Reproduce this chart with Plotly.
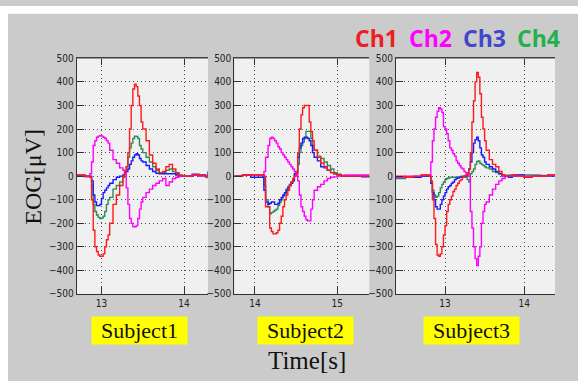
import plotly.graph_objects as go

# ---------------- data ----------------
CHANNELS = ["Ch1", "Ch2", "Ch3", "Ch4"]
CH_COLORS = ["#ff1a1a", "#ff00ff", "#1a1aff", "#2e8b57"]
LEGEND_COLORS = ["#ee1c24", "#ff00ff", "#3f48cc", "#22b14c"]
SUBJECTS = ["Subject1", "Subject2", "Subject3"]

S1_T = [12.70, 12.80, 12.86, 12.88, 12.90, 12.92, 12.94, 12.96, 12.98, 13.00,
        13.02, 13.04, 13.06, 13.08, 13.10, 13.14, 13.18, 13.22, 13.26, 13.28,
        13.30, 13.32, 13.34, 13.36, 13.38, 13.40, 13.42, 13.44, 13.46, 13.48,
        13.50, 13.54, 13.58, 13.62, 13.66, 13.70, 13.74, 13.78, 13.82, 13.86,
        13.90, 13.94, 13.98, 14.02, 14.10, 14.18, 14.26, 14.29]
S1_CH1 = [5, 0, -5, -100, -230, -300, -320, -335, -340, -340,
          -330, -300, -270, -250, -200, -120, -80, -40, 0, 20,
          40, 100, 200, 300, 370, 390, 380, 340, 300, 230,
          200, 150, 90, 55, 30, 15, 20, 40, 50, 30,
          15, 5, 0, 0, 5, 5, 0, 0]
S1_CH2 = [0, -3, 10, 60, 130, 150, 165, 170, 172, 170,
          165, 160, 150, 140, 110, 70, 55, 35, 25, 20,
          -50, -120, -180, -200, -215, -215, -210, -180, -140, -110,
          -90, -70, -55, -40, -30, -20, -10, -40, -25, -10,
          -5, 0, 0, 0, 5, 0, 0, 0]
S1_CH3 = [0, 0, 0, -20, -80, -110, -125, -125, -120, -95,
          -70, -60, -50, -40, -30, -15, -5, 0, 5, 15,
          20, 30, 50, 65, 80, 90, 95, 90, 75, 65,
          60, 45, 30, 20, 12, 10, 10, 10, 10, 10,
          5, 0, 0, 0, 8, 5, 0, 20]
S1_CH4 = [5, 0, -5, -40, -120, -150, -165, -175, -180, -178,
          -170, -150, -120, -100, -90, -55, -40, -25, -5, 10,
          40, 80, 120, 140, 160, 170, 168, 160, 130, 115,
          100, 80, 60, 40, 25, 15, 15, 25, 30, 20,
          10, 3, 0, 0, 5, 0, -5, -10]

S2_T = [13.75, 13.85, 13.95, 14.05, 14.11, 14.13, 14.16, 14.18, 14.20, 14.22,
        14.24, 14.26, 14.28, 14.30, 14.32, 14.34, 14.36, 14.38, 14.40, 14.42,
        14.44, 14.46, 14.48, 14.50, 14.52, 14.54, 14.56, 14.58, 14.60, 14.62,
        14.64, 14.66, 14.68, 14.70, 14.72, 14.76, 14.80, 14.84, 14.88, 14.92,
        14.96, 15.00, 15.05, 15.10, 15.20, 15.30, 15.39]
S2_CH1 = [0, 5, 5, 5, 0, -130, -130, -220, -235, -245,
          -245, -240, -230, -200, -170, -130, -100, -80, -60, -40,
          -25, -10, 0, 10, 100, 200, 260, 290, 300, 300,
          300, 230, 190, 150, 110, 80, 55, 40, 25, 15,
          10, 5, 0, 0, 0, 0, -5]
S2_CH2 = [0, 5, 5, 5, 20, 80, 130, 160, 165, 160,
          150, 140, 125, 115, 100, 90, 80, 70, 60, 50,
          40, 30, 20, 15, -20, -80, -130, -150, -170, -185,
          -190, -190, -140, -100, -60, -45, -35, -20, -10, -5,
          -3, 0, 3, 5, 5, 5, 3]
S2_CH3 = [0, 5, -5, -5, -60, -110, -120, -115, -110, -110,
          -120, -120, -115, -100, -90, -80, -70, -60, -50, -40,
          -30, -20, 10, 15, 80, 120, 140, 160, 165, 165,
          160, 150, 130, 100, 80, 65, 40, 35, 25, 15,
          10, 5, 0, 0, 0, -3, -5]
S2_CH4 = [0, 5, 5, 5, -40, -100, -130, -160, -155, -150,
          -145, -140, -125, -110, -100, -85, -75, -55, -45, -35,
          -25, -15, 0, 20, 50, 100, 130, 145, 160, 190,
          190, 190, 160, 130, 110, 85, 75, 60, 45, 30,
          15, 8, 3, 0, 0, 0, -5]

S3_T = [12.38, 12.50, 12.60, 12.70, 12.80, 12.82, 12.84, 12.86, 12.88, 12.90,
        12.92, 12.94, 12.96, 12.98, 13.00, 13.02, 13.04, 13.06, 13.08, 13.10,
        13.12, 13.14, 13.16, 13.18, 13.20, 13.22, 13.24, 13.26, 13.28, 13.30,
        13.32, 13.34, 13.36, 13.38, 13.40, 13.42, 13.44, 13.46, 13.48, 13.50,
        13.52, 13.56, 13.60, 13.64, 13.68, 13.72, 13.76, 13.80, 13.85, 13.90,
        14.00, 14.10, 14.20, 14.30, 14.39]
S3_CH1 = [0, -5, 0, 5, 0, -20, -100, -180, -290, -335,
          -340, -330, -300, -250, -210, -150, -120, -100, -85, -65,
          -55, -40, -30, -20, -15, -5, 0, 5, 10, 30,
          100, 230, 320, 400, 440, 420, 350, 250, 200, 150,
          110, 70, 50, 40, 20, 5, 0, 0, 5, 0,
          -5, 0, 0, 5, 5]
S3_CH2 = [-5, 0, 0, 5, 5, 60, 150, 200, 250, 275,
          290, 285, 270, 210, 200, 180, 150, 120, 110, 95,
          85, 65, 55, 45, 35, 30, 20, 15, 10, 0,
          -150, -220, -300, -350, -380, -340, -300, -200, -150, -120,
          -110, -80, -55, -35, -20, -10, 0, 0, 5, 0,
          0, 0, 0, 5, 5]
S3_CH3 = [-5, -5, -5, 0, 0, -30, -70, -100, -130, -140,
          -140, -120, -100, -85, -70, -55, -45, -40, -30, -25,
          -15, -10, -8, -5, -5, -3, 0, 0, 10, 30,
          60, 100, 140, 155, 165, 150, 120, 90, 80, 60,
          50, 40, 30, 20, 10, 0, 0, -5, 0, 5,
          -5, 0, 0, 0, 3]
S3_CH4 = [-10, -5, -3, 0, 0, -30, -60, -80, -90, -85,
          -70, -50, -35, -25, -15, -10, -8, -5, -5, -5,
          -5, -3, -3, -3, 0, 0, 0, -5, -15, -25,
          10, 20, 30, 50, 62, 65, 55, 50, 45, 40,
          35, 30, 20, 15, 10, 5, 3, 5, 5, 5,
          5, 5, 3, 5, 5]

X_RANGES = [[12.70, 14.29], [13.75, 15.39], [12.38, 14.39]]
X_TICKS = [[13, 14], [14, 15], [13, 14]]
Y_RANGE = [-500, 500]

panels = [
    (S1_T, [S1_CH1, S1_CH2, S1_CH3, S1_CH4]),
    (S2_T, [S2_CH1, S2_CH2, S2_CH3, S2_CH4]),
    (S3_T, [S3_CH1, S3_CH2, S3_CH3, S3_CH4]),
]
for t, chans in panels:
    for c in chans:
        assert len(c) == len(t), (len(c), len(t))

# ---------------- layout geometry (pixels) ----------------
# figure slightly larger than the 578x381 window so the grey paper reaches the edges
W, H = 590, 393
PANEL_X = [(76.7, 208.0), (234.3, 369.3), (396.0, 555.0)]
PANEL_Y = (54.0, 297.0)


def fx(p):
    return p / W


def fy(p):
    return 1 - p / H


fig = go.Figure()
draw_order = [3, 2, 1, 0]
for i, (t, chans) in enumerate(panels):
    xa = "x" if i == 0 else f"x{i + 1}"
    ya = "y" if i == 0 else f"y{i + 1}"
    for k in draw_order:
        fig.add_trace(go.Scatter(
            x=t, y=chans[k], mode="lines", name=CHANNELS[k],
            line=dict(color=CH_COLORS[k], width=1.4, shape="hv"),
            xaxis=xa, yaxis=ya, showlegend=False,
        ))

tick_font = dict(family="Liberation Sans Narrow, DejaVu Sans Condensed, sans-serif",
                 size=10, color="#222222")
axis_common = dict(
    showline=True, linecolor="#333333", linewidth=1,
    showgrid=True, gridcolor="#4a4a4a", griddash="1px,3px", gridwidth=1,
    zeroline=False, tickfont=tick_font, ticks="inside", tickcolor="#333333",
    ticklen=7, fixedrange=True,
)

layout = dict(
    width=W, height=H,
    margin=dict(l=0, r=0, t=0, b=0),
    paper_bgcolor="#cbcbcb",
    plot_bgcolor="#f0f0f0",
    showlegend=False,
)
for i in range(3):
    sx = "" if i == 0 else str(i + 1)
    layout[f"xaxis{sx}"] = dict(
        axis_common, domain=[fx(PANEL_X[i][0]), fx(PANEL_X[i][1])],
        range=X_RANGES[i], tickvals=X_TICKS[i], mirror="ticks",
        anchor=f"y{sx}",
    )
    layout[f"yaxis{sx}"] = dict(
        axis_common, domain=[fy(PANEL_Y[1]), fy(PANEL_Y[0])],
        range=Y_RANGE, dtick=100, tick0=0, mirror=False,
        anchor=f"x{sx}",
    )
fig.update_layout(**layout)

# lighter top frame line of each panel
for i in range(3):
    sx = "" if i == 0 else str(i + 1)
    fig.add_shape(type="line", xref=f"x{sx} domain", yref=f"y{sx} domain",
                  x0=0, x1=1, y0=1, y1=1, line=dict(color="#8a8a8a", width=1),
                  layer="above")

# white outer border (top and left)
fig.add_shape(type="rect", xref="paper", yref="paper", x0=0, x1=fx(8), y0=0, y1=1,
              fillcolor="white", line_width=0, layer="above")
fig.add_shape(type="rect", xref="paper", yref="paper", x0=0, x1=1, y0=fy(8), y1=1,
              fillcolor="white", line_width=0, layer="above")

# legend words
LEG_X = [376.7, 430.9, 484.4, 538.2]
for k in range(4):
    fig.add_annotation(x=fx(LEG_X[k]), y=fy(33), xref="paper", yref="paper",
                       text=f"<b>{CHANNELS[k]}</b>", showarrow=False,
                       xanchor="center", yanchor="middle",
                       font=dict(family="Open Sans, sans-serif", size=23,
                                 color=LEGEND_COLORS[k]))

# subject labels
SUBJ_X = [139.5, 305.5, 471.5]
for i, s in enumerate(SUBJECTS):
    fig.add_annotation(x=fx(SUBJ_X[i]), y=fy(334.5), xref="paper", yref="paper",
                       text=s, showarrow=False, xanchor="center", yanchor="middle",
                       bgcolor="#ffff00", width=95, height=27, borderpad=0,
                       font=dict(family="Liberation Serif, Times New Roman, serif",
                                 size=22, color="#111111"))

# axis titles
fig.add_annotation(x=fx(307), y=fy(366), xref="paper", yref="paper",
                   text="Time[s]", showarrow=False, xanchor="center", yanchor="middle",
                   font=dict(family="Liberation Serif, Times New Roman, serif",
                             size=25, color="#111111"))
fig.add_annotation(x=fx(33), y=fy(176), xref="paper", yref="paper",
                   text="EOG[μV]", showarrow=False, textangle=-90,
                   xanchor="center", yanchor="middle",
                   font=dict(family="Liberation Serif, Times New Roman, serif",
                             size=24, color="#111111"))

fig.write_html(
    "out.html",
    post_script="document.body.style.margin='0';document.body.style.overflow='hidden';",
)
